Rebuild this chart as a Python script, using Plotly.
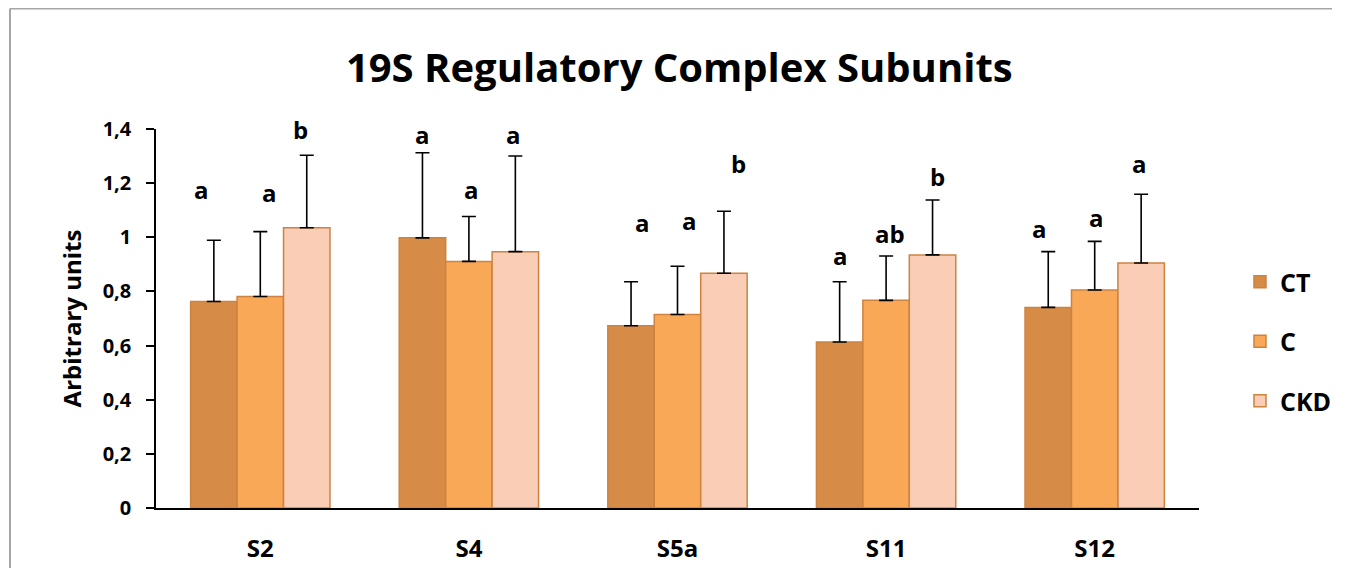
import plotly.graph_objects as go

categories = ["S2", "S4", "S5a", "S11", "S12"]
series_names = ["CT", "C", "CKD"]
ct_values = [0.763, 0.998, 0.673, 0.613, 0.741]
c_values = [0.781, 0.911, 0.715, 0.767, 0.805]
ckd_values = [1.035, 0.947, 0.867, 0.935, 0.905]
ct_err = [0.226, 0.314, 0.163, 0.223, 0.206]
c_err = [0.240, 0.166, 0.178, 0.164, 0.180]
ckd_err = [0.268, 0.353, 0.229, 0.203, 0.254]
ct_letters = ["a", "a", "a", "a", "a"]
c_letters = ["a", "a", "a", "ab", "a"]
ckd_letters = ["b", "a", "b", "b", "a"]
ct_letter_y = [1.176, 1.380, 1.053, 0.933, 1.031]
c_letter_y = [1.167, 1.176, 1.062, 1.014, 1.072]
ckd_letter_y = [1.398, 1.380, 1.273, 1.226, 1.272]
y_ticks = [0, 0.2, 0.4, 0.6, 0.8, 1.0, 1.2, 1.4]

values = [ct_values, c_values, ckd_values]
errors = [ct_err, c_err, ckd_err]
letters = [ct_letters, c_letters, ckd_letters]
letter_y = [ct_letter_y, c_letter_y, ckd_letter_y]
letter_xshift = [[-12, 0, 11, 1, -9], [9, 3, 12, 4, 2], [-6, -2, 15, 5, -2]]

fills = ["#D68C47", "#F8A857", "#F9CDB6"]
outline = "#CD8240"
FONT = "Open Sans, sans-serif"

# page has an 8px body margin; figure sized to fit inside the window without scrollbars
W, H = 1324, 560
ML, MR, MT, MB = 148, 133, 121, 60
bargap = 0.332

fig = go.Figure()
for name, vals, errs, col in zip(series_names, values, errors, fills):
    fig.add_trace(go.Bar(
        name=name, x=categories, y=vals,
        marker=dict(color=col, line=dict(color=outline, width=1.5)),
        error_y=dict(type="data", array=errs, arrayminus=[0] * len(errs), symmetric=False,
                     color="black", thickness=1.6, width=7),
        legendgroup=name,
    ))

annotations = []
group_w = 1 - bargap
for j in range(3):
    for i, cat in enumerate(categories):
        annotations.append(dict(
            x=i + (j - 1) * group_w / 3, y=letter_y[j][i], xref="x", yref="y",
            text=letters[j][i], showarrow=False,
            xshift=letter_xshift[j][i],
            font=dict(family=FONT, size=24, color="black", weight="bold"),
        ))

pw = W - ML - MR
ph = H - MT - MB
fx0 = (2 - ML) / pw
fy1 = (H - 0.5 - MB) / ph
frame = dict(color="#A6A6A6", width=2)
fig.add_shape(type="line", xref="paper", yref="paper", x0=fx0, x1=(W - ML) / pw,
              y0=fy1, y1=fy1, line=frame, layer="below")
fig.add_shape(type="line", xref="paper", yref="paper", x0=fx0, x1=fx0,
              y0=-MB / ph, y1=fy1, line=frame, layer="below")

bold = dict(family=FONT, color="black", weight="bold")

fig.update_layout(
    width=W, height=H,
    margin=dict(l=ML, r=MR, t=MT, b=MB, autoexpand=False),
    paper_bgcolor="white", plot_bgcolor="white",
    separators=",.",
    barmode="group", bargap=bargap, bargroupgap=0,
    title=dict(text="19S Regulatory Complex Subunits", x=0.507, xanchor="center",
               y=1 - 60 / H, yanchor="middle",
               font=dict(bold, size=40)),
    font=dict(family=FONT, color="black"),
    showlegend=True,
    legend=dict(x=1.0393, y=0.439, xanchor="left", yanchor="middle",
                font=dict(bold, size=25),
                traceorder="grouped", tracegroupgap=24, bgcolor="rgba(0,0,0,0)"),
    annotations=annotations,
    xaxis=dict(showline=True, linecolor="black", linewidth=1.5, ticks="",
               tickfont=dict(bold, size=24),
               ticklabelstandoff=18, showgrid=False, zeroline=False),
    yaxis=dict(range=[0, 1.4], tickvals=y_ticks, showline=True, linecolor="black", linewidth=1.5,
               ticks="outside", ticklen=8, tickcolor="black", tickwidth=1.5,
               tickfont=dict(bold, size=20), ticklabelstandoff=11,
               showgrid=False, zeroline=False,
               title=dict(text="Arbitrary units", font=dict(bold, size=24),
                          standoff=14)),
)

fig.write_html("out.html")
